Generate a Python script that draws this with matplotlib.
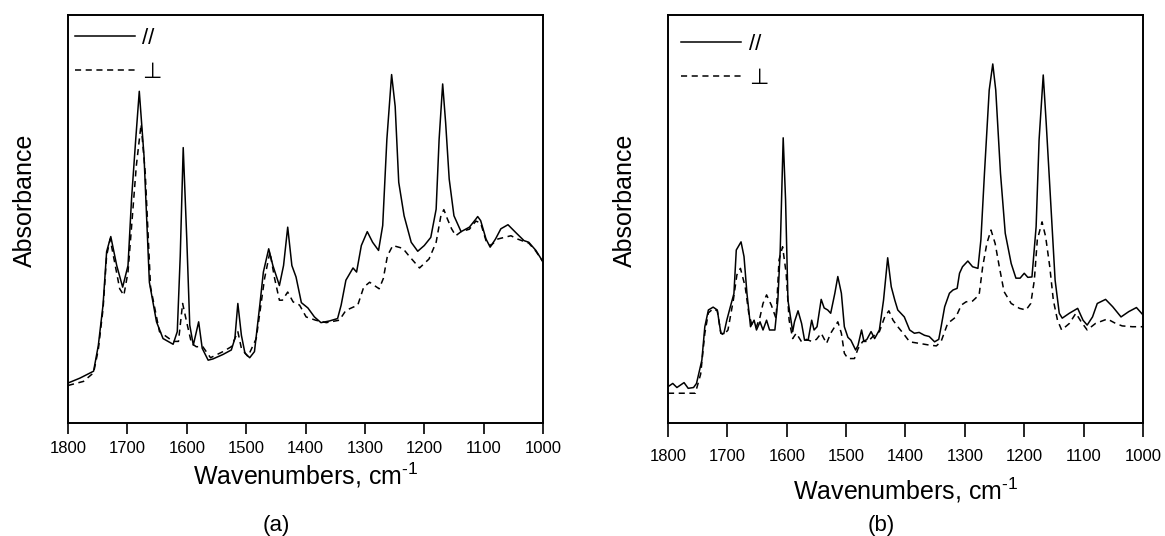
import matplotlib
matplotlib.use("Agg")
from matplotlib import pyplot as plt

plt.rcParams['font.family'] = ['Liberation Sans', 'DejaVu Sans']
plt.rcParams['mathtext.fontset'] = 'custom'
plt.rcParams['mathtext.rm'] = 'Liberation Sans'
plt.rcParams['mathtext.default'] = 'regular'

# panel (a): parallel (//) and perpendicular polarised spectra
wn_a_par = [1800, 1780, 1757, 1749, 1741, 1735, 1728, 1718, 1708, 1699,
            1693, 1686, 1680, 1672, 1663, 1651, 1640, 1623, 1616, 1611,
            1606, 1600, 1595, 1589, 1580, 1574, 1564, 1556, 1539, 1525,
            1519, 1514, 1508, 1502, 1494, 1486, 1477, 1471, 1462, 1455,
            1444, 1437, 1430, 1423, 1416, 1407, 1396, 1385, 1374, 1360,
            1346, 1340, 1332, 1320, 1314, 1306, 1296, 1287, 1277, 1270,
            1263, 1255, 1249, 1243, 1234, 1222, 1211, 1200, 1189, 1180,
            1175, 1169, 1164, 1158, 1150, 1138, 1124, 1113, 1110, 1105,
            1096, 1089, 1080, 1071, 1059, 1046, 1032, 1024, 1012, 1000]
abs_a_par = [0.098, 0.11, 0.127, 0.19, 0.29, 0.42, 0.457, 0.386, 0.333, 0.386,
             0.55, 0.695, 0.813, 0.654, 0.345, 0.248, 0.207, 0.193, 0.224, 0.41,
             0.675, 0.451, 0.24, 0.191, 0.248, 0.183, 0.154, 0.157, 0.168, 0.179,
             0.207, 0.293, 0.215, 0.171, 0.16, 0.175, 0.289, 0.37, 0.427, 0.386,
             0.337, 0.386, 0.48, 0.386, 0.358, 0.295, 0.282, 0.26, 0.246, 0.25,
             0.256, 0.289, 0.35, 0.38, 0.37, 0.435, 0.469, 0.443, 0.423, 0.484,
             0.695, 0.854, 0.776, 0.59, 0.508, 0.443, 0.421, 0.435, 0.455, 0.524,
             0.695, 0.831, 0.736, 0.598, 0.508, 0.469, 0.48, 0.5, 0.506, 0.496,
             0.451, 0.431, 0.451, 0.476, 0.486, 0.467, 0.447, 0.443, 0.423, 0.395]

wn_a_perp = [1800, 1774, 1757, 1749, 1741, 1735, 1729, 1713, 1706, 1699,
             1685, 1677, 1670, 1661, 1646, 1623, 1614, 1607, 1600, 1592,
             1584, 1573, 1560, 1539, 1525, 1514, 1508, 1497, 1483, 1469,
             1460, 1452, 1444, 1439, 1430, 1421, 1410, 1399, 1383, 1365,
             1343, 1332, 1312, 1302, 1292, 1276, 1269, 1262, 1253, 1236,
             1226, 1208, 1192, 1180, 1172, 1167, 1161, 1154, 1147, 1138,
             1124, 1113, 1105, 1096, 1088, 1076, 1054, 1043, 1032, 1024,
             1012, 1000]
abs_a_perp = [0.092, 0.102, 0.123, 0.18, 0.28, 0.41, 0.451, 0.329, 0.313, 0.37,
              0.63, 0.732, 0.614, 0.333, 0.224, 0.2, 0.2, 0.293, 0.246, 0.195,
              0.187, 0.187, 0.16, 0.175, 0.187, 0.224, 0.183, 0.163, 0.207, 0.354,
              0.419, 0.354, 0.301, 0.301, 0.321, 0.297, 0.289, 0.26, 0.252, 0.246,
              0.252, 0.276, 0.289, 0.333, 0.345, 0.329, 0.354, 0.41, 0.435, 0.428,
              0.41, 0.38, 0.402, 0.443, 0.508, 0.523, 0.5, 0.476, 0.459, 0.469,
              0.475, 0.495, 0.49, 0.447, 0.435, 0.451, 0.459, 0.451, 0.445, 0.441,
              0.421, 0.395]

# panel (b)
wn_b_par = [1800, 1792, 1785, 1773, 1766, 1757, 1752, 1743, 1738, 1732,
            1724, 1717, 1711, 1706, 1701, 1695, 1689, 1685, 1677, 1672,
            1667, 1661, 1655, 1651, 1645, 1640, 1634, 1629, 1620, 1615,
            1611, 1606, 1602, 1598, 1590, 1587, 1581, 1575, 1570, 1564,
            1558, 1554, 1549, 1542, 1537, 1531, 1526, 1519, 1514, 1508,
            1503, 1497, 1492, 1484, 1480, 1474, 1470, 1465, 1458, 1452,
            1444, 1437, 1430, 1424, 1418, 1413, 1402, 1393, 1385, 1377,
            1368, 1360, 1351, 1344, 1340, 1334, 1326, 1320, 1313, 1309,
            1304, 1295, 1287, 1278, 1273, 1267, 1259, 1253, 1248, 1240,
            1232, 1222, 1214, 1207, 1200, 1194, 1187, 1180, 1175, 1168,
            1163, 1155, 1148, 1141, 1136, 1124, 1110, 1101, 1094, 1085,
            1077, 1063, 1051, 1037, 1024, 1011, 1000]
abs_b_par = [0.089, 0.097, 0.087, 0.099, 0.085, 0.087, 0.097, 0.154, 0.236, 0.277,
             0.284, 0.277, 0.22, 0.219, 0.252, 0.285, 0.317, 0.424, 0.444, 0.408,
             0.317, 0.236, 0.252, 0.228, 0.248, 0.228, 0.252, 0.228, 0.228, 0.301,
             0.424, 0.699, 0.547, 0.301, 0.224, 0.248, 0.275, 0.244, 0.203, 0.203,
             0.252, 0.228, 0.236, 0.303, 0.282, 0.277, 0.269, 0.318, 0.359, 0.318,
             0.236, 0.21, 0.203, 0.179, 0.19, 0.228, 0.2, 0.205, 0.224, 0.207,
             0.228, 0.301, 0.405, 0.334, 0.301, 0.277, 0.26, 0.228, 0.22, 0.222,
             0.215, 0.212, 0.199, 0.205, 0.236, 0.285, 0.318, 0.326, 0.33, 0.367,
             0.383, 0.397, 0.383, 0.379, 0.449, 0.612, 0.816, 0.88, 0.816, 0.612,
             0.465, 0.391, 0.355, 0.355, 0.367, 0.357, 0.358, 0.481, 0.694, 0.853,
             0.735, 0.53, 0.35, 0.269, 0.257, 0.269, 0.281, 0.252, 0.24, 0.26,
             0.293, 0.303, 0.285, 0.26, 0.273, 0.283, 0.265]

wn_b_perp = [1800, 1754, 1745, 1738, 1732, 1724, 1717, 1711, 1706, 1699,
             1690, 1684, 1678, 1670, 1664, 1658, 1651, 1645, 1640, 1634,
             1626, 1618, 1613, 1607, 1601, 1596, 1590, 1584, 1575, 1567,
             1558, 1550, 1542, 1533, 1526, 1514, 1508, 1503, 1497, 1486,
             1480, 1472, 1463, 1455, 1444, 1435, 1428, 1421, 1413, 1404,
             1393, 1376, 1360, 1348, 1340, 1329, 1315, 1306, 1298, 1287,
             1276, 1270, 1263, 1256, 1249, 1242, 1234, 1222, 1208, 1197,
             1189, 1183, 1178, 1170, 1164, 1157, 1151, 1144, 1137, 1124,
             1113, 1104, 1094, 1080, 1060, 1046, 1035, 1018, 1000]
abs_b_perp = [0.073, 0.073, 0.12, 0.22, 0.27, 0.28, 0.275, 0.22, 0.216, 0.228,
              0.301, 0.363, 0.379, 0.334, 0.269, 0.236, 0.236, 0.26, 0.293, 0.314,
              0.289, 0.256, 0.4, 0.432, 0.367, 0.252, 0.207, 0.22, 0.199, 0.205,
              0.2, 0.205, 0.22, 0.195, 0.22, 0.248, 0.22, 0.171, 0.158, 0.158,
              0.182, 0.2, 0.2, 0.212, 0.224, 0.26, 0.275, 0.252, 0.236, 0.22,
              0.199, 0.195, 0.191, 0.189, 0.2, 0.244, 0.26, 0.289, 0.297, 0.299,
              0.314, 0.383, 0.44, 0.473, 0.44, 0.383, 0.322, 0.293, 0.281, 0.277,
              0.293, 0.35, 0.449, 0.493, 0.457, 0.383, 0.301, 0.252, 0.228, 0.244,
              0.269, 0.248, 0.228, 0.244, 0.255, 0.244, 0.238, 0.236, 0.236]

x_ticks = [1800, 1700, 1600, 1500, 1400, 1300, 1200, 1100, 1000]
series_labels = ['//', '\u22a5']

fig = plt.figure(figsize=(11.65, 5.36), dpi=100)
ax_a = fig.add_axes([0.0584, 0.2108, 0.4077, 0.7612])
ax_b = fig.add_axes([0.5734, 0.2108, 0.4077, 0.7612])

panels = [
    (ax_a, wn_a_par, abs_a_par, wn_a_perp, abs_a_perp, '(a)',
     dict(tick_len=7.7, tick_pad=5.5, xlab_y=-0.092, ylab_x=-0.066,
          tag_x=0.438, tag_y=-0.252, leg=(0.0, 0.985))),
    (ax_b, wn_b_par, abs_b_par, wn_b_perp, abs_b_perp, '(b)',
     dict(tick_len=10.0, tick_pad=8.5, xlab_y=-0.128, ylab_x=-0.066,
          tag_x=0.45, tag_y=-0.25, leg=(0.014, 0.97))),
]

for ax, wp, ap, wq, aq, tag, lay in panels:
    ax.plot(wp, ap, color='black', lw=1.1, label=series_labels[0])
    ax.plot(wq, aq, color='black', lw=1.1, dashes=(4, 3), label=series_labels[1])
    ax.set_xlim(1800, 1000)
    ax.set_ylim(0, 1)
    ax.set_xticks(x_ticks)
    ax.set_xticklabels([str(t) for t in x_ticks])
    ax.set_yticks([])
    ax.tick_params(axis='x', direction='out', length=lay['tick_len'], width=1.2,
                   pad=lay['tick_pad'], labelsize=12)
    for sp in ax.spines.values():
        sp.set_linewidth(1.4)
    ax.set_xlabel('Wavenumbers, cm$^{\\text{-1}}$', fontsize=18)
    ax.xaxis.set_label_coords(0.5, lay['xlab_y'])
    ax.set_ylabel('Absorbance', fontsize=18)
    ax.yaxis.set_label_coords(lay['ylab_x'], 0.547)
    ax.text(lay['tag_x'], lay['tag_y'], tag, transform=ax.transAxes,
            ha='center', va='center', fontsize=16)
    ax.legend(loc='upper left', bbox_to_anchor=lay['leg'], frameon=False,
              fontsize=16, handlelength=2.7, handletextpad=0.35,
              labelspacing=0.6, borderpad=0.3, borderaxespad=0.0)

fig.savefig('out.png', dpi=100)
